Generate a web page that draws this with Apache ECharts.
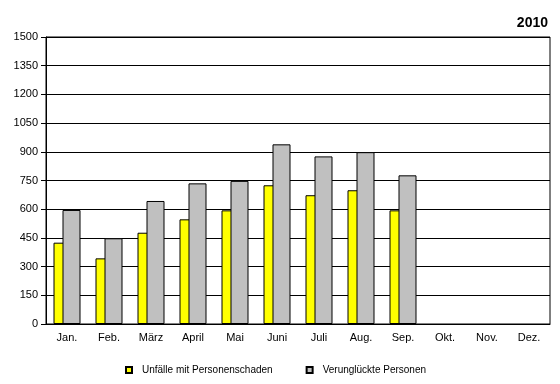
<!DOCTYPE html>
<html><head><meta charset="utf-8">
<script src="https://cdn.jsdelivr.net/npm/echarts@6/dist/echarts.min.js"></script>
<style>html,body{margin:0;padding:0;background:#fff}#c{width:560px;height:384px}</style>
</head><body><div id="c"></div>
<script>
const categories = ['Jan.','Feb.','März','April','Mai','Juni','Juli','Aug.','Sep.','Okt.','Nov.','Dez.'];
const unfaelle = [425, 343, 477, 547, 594, 725, 673, 699, 594, null, null, null];
const verunglueckte = [596, 448, 643, 735, 748, 939, 876, 898, 777, null, null, null];
const seriesNames = ['Unfälle mit Personenschaden', 'Verunglückte Personen'];
const yTicks = {min: 0, max: 1500, interval: 150};
const title = '2010';

const chart = echarts.init(document.getElementById('c'), null, {renderer: 'canvas'});
chart.setOption({
  animation: false,
  backgroundColor: '#fff',
  textStyle: {fontFamily: 'Liberation Sans, Arial, sans-serif'},
  title: {
    text: title, right: 7, top: 11,
    textStyle: {fontSize: 14, fontWeight: 'bold', color: '#000', fontFamily: 'Liberation Sans, Arial, sans-serif'}
  },
  legend: {
    bottom: 4, left: 120, itemGap: 33,
    itemWidth: 6, itemHeight: 6,
    icon: 'rect',
    textStyle: {fontSize: 10, color: '#000', padding: [0, 0, 0, 5]},
    data: seriesNames
  },
  grid: {left: 46, right: 10, top: 37, bottom: 60, show: true, borderColor: '#000', borderWidth: 1},
  xAxis: {
    type: 'category', data: categories,
    axisLine: {lineStyle: {color: '#000'}},
    axisTick: {show: false},
    axisLabel: {color: '#000', fontSize: 11, margin: 8}
  },
  yAxis: {
    type: 'value', min: yTicks.min, max: yTicks.max, interval: yTicks.interval,
    axisLine: {show: true, lineStyle: {color: '#000'}},
    axisTick: {show: true, length: 5, lineStyle: {color: '#000'}},
    axisLabel: {color: '#000', fontSize: 11, margin: 8, formatter: v => String(v)},
    splitLine: {lineStyle: {color: '#000', width: 1}}
  },
  series: [
    {name: seriesNames[0], type: 'bar', data: unfaelle, barWidth: 18, barGap: '-50%',
     itemStyle: {color: '#ffff00', borderColor: '#000', borderWidth: 1}},
    {name: seriesNames[1], type: 'bar', data: verunglueckte, barWidth: 18,
     itemStyle: {color: '#c0c0c0', borderColor: '#000', borderWidth: 1}}
  ]
});
</script></body></html>
